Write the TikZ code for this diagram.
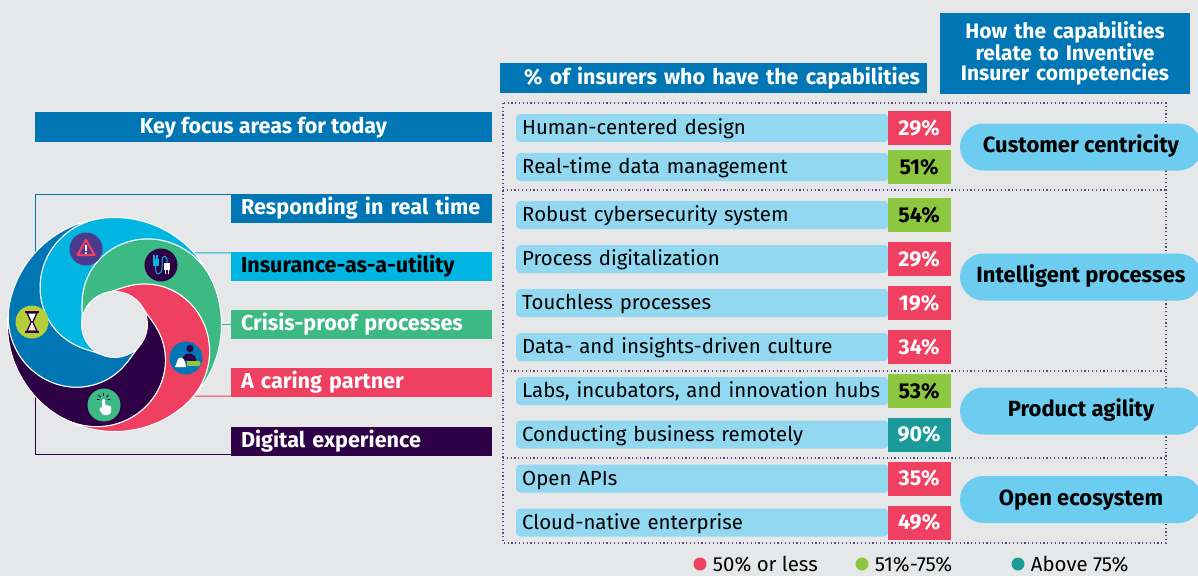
\documentclass[tikz,border=0pt]{standalone}
\usepackage{fontspec}
\setmainfont{Fira Sans}
\usetikzlibrary{positioning}
\definecolor{hblue}{HTML}{0077B4}
\definecolor{skyc}{HTML}{00B5E2}
\definecolor{leaf}{HTML}{3DB983}
\definecolor{rose}{HTML}{EF4062}
\definecolor{plum}{HTML}{2E0046}
\definecolor{limec}{HTML}{8DC63F}
\definecolor{tealc}{HTML}{1A9A9A}
\definecolor{barc}{HTML}{91D8F0}
\definecolor{pillc}{HTML}{6CCDF0}
\definecolor{bgc}{HTML}{E6E7E8}
\definecolor{dotc}{HTML}{5E4680}
\definecolor{indig}{HTML}{4B3A8E}
\definecolor{sand}{HTML}{B5CF3A}
\definecolor{cream}{HTML}{F4EDB8}
\begin{document}
\begin{tikzpicture}[x=1pt,y=-1pt,
	declare function={fo(\d)=33+37*(1-cos(min(\d,150)*1.2)); fi(\d)=33+37*(1-cos((\d-72)*1.2));},
	hdr/.style={fill=hblue,text=white,inner sep=0pt,text height=14pt,text depth=1pt,font=\fontsize{21.5}{21.5}\selectfont\bfseries},
	lab/.style={text width=241pt,inner xsep=10pt,inner ysep=0pt,minimum height=29pt,align=left,text=white,text height=15pt,text depth=2.5pt,font=\fontsize{21.6}{21.6}\selectfont\bfseries},
	capbar/.style={fill=barc,rounded corners=4pt,minimum height=28pt,text width=360pt,inner xsep=6pt,inner ysep=0pt,align=left,anchor=west,text height=14pt,text depth=1pt,font=\fontsize{20.4}{20.4}\selectfont},
	pc/.style={minimum width=63pt,minimum height=34pt,inner sep=0pt,text=white,text height=14pt,text depth=0pt,font=\fontsize{21.5}{21.5}\selectfont\bfseries},
	pill/.style={fill=pillc,minimum width=242pt,minimum height=47pt,rounded corners=23.5pt,text height=15pt,text depth=4pt,font=\fontsize{22}{22}\selectfont\bfseries},
	frm/.style={dotc,line width=1.2pt,dash pattern=on 1.2pt off 2.6pt},
	ico/.style={circle,minimum size=33pt,inner sep=0pt},
	keydot/.style={circle,minimum size=13pt,inner sep=0pt},
	keytxt/.style={inner sep=0pt,text height=14pt,text depth=0pt,font=\fontsize{20.4}{20.4}\selectfont}]
	\useasboundingbox (0,0) rectangle (1198,576);
	\fill[bgc] (0,0) rectangle (1198,576);
	% left column
	\node[hdr,minimum width=457pt,minimum height=30pt] (kfa) at (263.5,127) {Key focus areas for today};
	\node[lab,fill=hblue] (resp) at (361.5,208.5) {Responding in real time};
	\node[lab,fill=skyc,text=black] (ins) at (361.5,266.5) {Insurance-as-a-utility};
	\node[lab,fill=leaf] (cri) at (361.5,324.5) {Crisis-proof processes};
	\node[lab,fill=rose] (car) at (361.5,382.5) {A caring partner};
	\node[lab,fill=plum] (dig) at (361.5,441.5) {Digital experience};
	\coordinate (s1) at (35,260);
	\coordinate (s2) at (190,253);
	\coordinate (s3) at (205,324.5);
	\coordinate (s4) at (185,396);
	\coordinate (s5) at (35,390);
	\draw[hblue,line width=1pt] ([yshift=-0.5pt]resp.north west) -| (s1);
	\draw[skyc,line width=1pt] ([yshift=-1pt]ins.north west) -- (s2);
	\draw[leaf,line width=1pt] (cri.west) -- (s3);
	\draw[rose,line width=1pt] ([yshift=1pt]car.south west) -- (s4);
	\draw[plum,line width=1pt] ([yshift=1.5pt]dig.south west) -| (s5);
	% swirl
	\begin{scope}[x=1pt,y=1pt,shift={(114.5pt,-324.5pt)}]
		\foreach \s/\c in {30/plum,102/rose,174/leaf,246/skyc,318/hblue}
			\filldraw[fill=\c,draw=white,line width=1pt,line join=round]
				plot[domain=0:222,samples=80,smooth] ({\s-\x}:{fo(\x)})
				-- plot[domain=222:72,samples=60,smooth] ({\s-\x}:{fi(\x)})
				arc[start angle=\s-72,end angle=\s,radius=33] -- cycle;
	\end{scope}
	% icons
	\node[ico,fill=indig] (warn) at (86,249) {};
	\draw[rose,line width=2.2pt,line join=round] (86,240) -- (94.5,255) -- (77.5,255) -- cycle;
	\draw[white,line width=2pt] (86,244.5) -- (86,250.5);
	\fill[white] (86,253) circle (1.2);
	\node[ico,fill=plum] (plug) at (161,265) {};
	\fill[skyc] (152.5,259) rectangle (158.5,266);
	\draw[skyc,line width=1.2pt] (154,255) -- (154,259) (157,255) -- (157,259);
	\draw[skyc,line width=1pt] (155.5,266) -- (155.5,270) .. controls (155.5,276) and (162,275) .. (162,268) -- (162,260) .. controls (162,255) and (167,255) .. (167,260) -- (167,263);
	\fill[white] (164,263) rectangle (170,270);
	\draw[white,line width=1.2pt] (165.5,270) -- (165.5,274) (168.5,270) -- (168.5,274);
	\node[ico,fill=sand] (glass) at (32,322) {};
	\draw[plum,line width=1.8pt] (25,312) -- (39,312) (25,332) -- (39,332);
	\filldraw[fill=white,draw=plum,line width=1.3pt] (27,313) -- (37,313) -- (32.8,322) -- (37,331) -- (27,331) -- (31.2,322) -- cycle;
	\fill[cream] (28.8,330) -- (32,325) -- (35.2,330) -- cycle;
	\node[ico,fill=hblue] (care) at (186,358) {};
	\fill[plum] (190,348.5) circle (3.6);
	\fill[plum] (183,357) .. controls (186,352) and (194,352) .. (196,359) -- (196,364) -- (189,364) .. controls (189,360) .. (184,361) -- cycle;
	\fill[limec] (187,361) -- (199,361) .. controls (201,361) and (201,366) .. (199,366) -- (187,366) -- cycle;
	\fill[white] (175,367) -- (178,359) .. controls (180,356) and (184,358) .. (185,362) -- (186,367) -- cycle;
	\node[ico,fill=leaf] (tap) at (104,405) {};
	\fill[white,rounded corners=1pt] (102,399) -- (105,399) -- (105,405) -- (111,406) -- (111,413) -- (108,415) -- (103,415) -- (99,409) -- (101,407) -- (102,408) -- cycle;
	\draw[plum,line width=0.9pt] (103.5,393) -- (103.5,395.5) (98.5,395) -- (100.5,397) (108.5,395) -- (106.5,397) (97,399.5) -- (99.5,399.5) (110,399.5) -- (107.5,399.5);
	% right column headers
	\node[hdr,minimum height=30pt,text width=413pt,inner xsep=7pt,align=right] (pct) at (713.5,78) {\% of insurers who have the capabilities};
	\node[hdr,minimum width=250pt,minimum height=81pt,text width=240pt,inner xsep=5pt,align=center,text height=,text depth=,font=\fontsize{21}{19.5}\selectfont\bfseries] (how) at (1065,53) {How the capabilities\\relate to Inventive\\Insurer competencies};
	% frames
	\draw[frm] (503,103) rectangle (1166,543);
	\draw[frm] (503,190) -- (1166,190);
	\draw[frm] (503,371) -- (1166,371);
	\draw[frm] (503,458) -- (1166,458);
	% capabilities
	\node[capbar] (b1) at (516,128) {Human-centered design};
	\node[pc,fill=rose,right=-1pt of b1] (p1) {29\%};
	\node[capbar] (b2) at (516,167) {Real-time data management};
	\node[pc,fill=limec,text=black,right=-1pt of b2] (p2) {51\%};
	\node[capbar] (b3) at (516,215) {Robust cybersecurity system};
	\node[pc,fill=limec,text=black,right=-1pt of b3] (p3) {54\%};
	\node[capbar] (b4) at (516,259) {Process digitalization};
	\node[pc,fill=rose,right=-1pt of b4] (p4) {29\%};
	\node[capbar] (b5) at (516,303) {Touchless processes};
	\node[pc,fill=rose,right=-1pt of b5] (p5) {19\%};
	\node[capbar] (b6) at (516,347) {Data- and insights-driven culture};
	\node[pc,fill=rose,right=-1pt of b6] (p6) {34\%};
	\node[capbar] (b7) at (516,391) {Labs, incubators, and innovation hubs};
	\node[pc,fill=limec,text=black,right=-1pt of b7] (p7) {53\%};
	\node[capbar] (b8) at (516,434.5) {Conducting business remotely};
	\node[pc,fill=tealc,right=-1pt of b8] (p8) {90\%};
	\node[capbar] (b9) at (516,478.5) {Open APIs};
	\node[pc,fill=rose,right=-1pt of b9] (p9) {35\%};
	\node[capbar] (b10) at (516,522.5) {Cloud-native enterprise};
	\node[pc,fill=rose,right=-1pt of b10] (p10) {49\%};
	% competencies
	\node[pill] (cc) at (1081,147) {Customer centricity};
	\node[pill] (ip) at (1081,277) {Intelligent processes};
	\node[pill] (pa) at (1081,411) {Product agility};
	\node[pill] (oe) at (1081,499.5) {Open ecosystem};
	% legend
	\node[keydot,fill=rose] (k1) at (700,564) {};
	\node[keytxt,right=6pt of k1] (t1) {50\% or less};
	\node[keydot,fill=limec] (k2) at (862,564) {};
	\node[keytxt,right=6pt of k2] (t2) {51\%-75\%};
	\node[keydot,fill=tealc] (k3) at (1018,564) {};
	\node[keytxt,right=6pt of k3] (t3) {Above 75\%};
\end{tikzpicture}
\end{document}
